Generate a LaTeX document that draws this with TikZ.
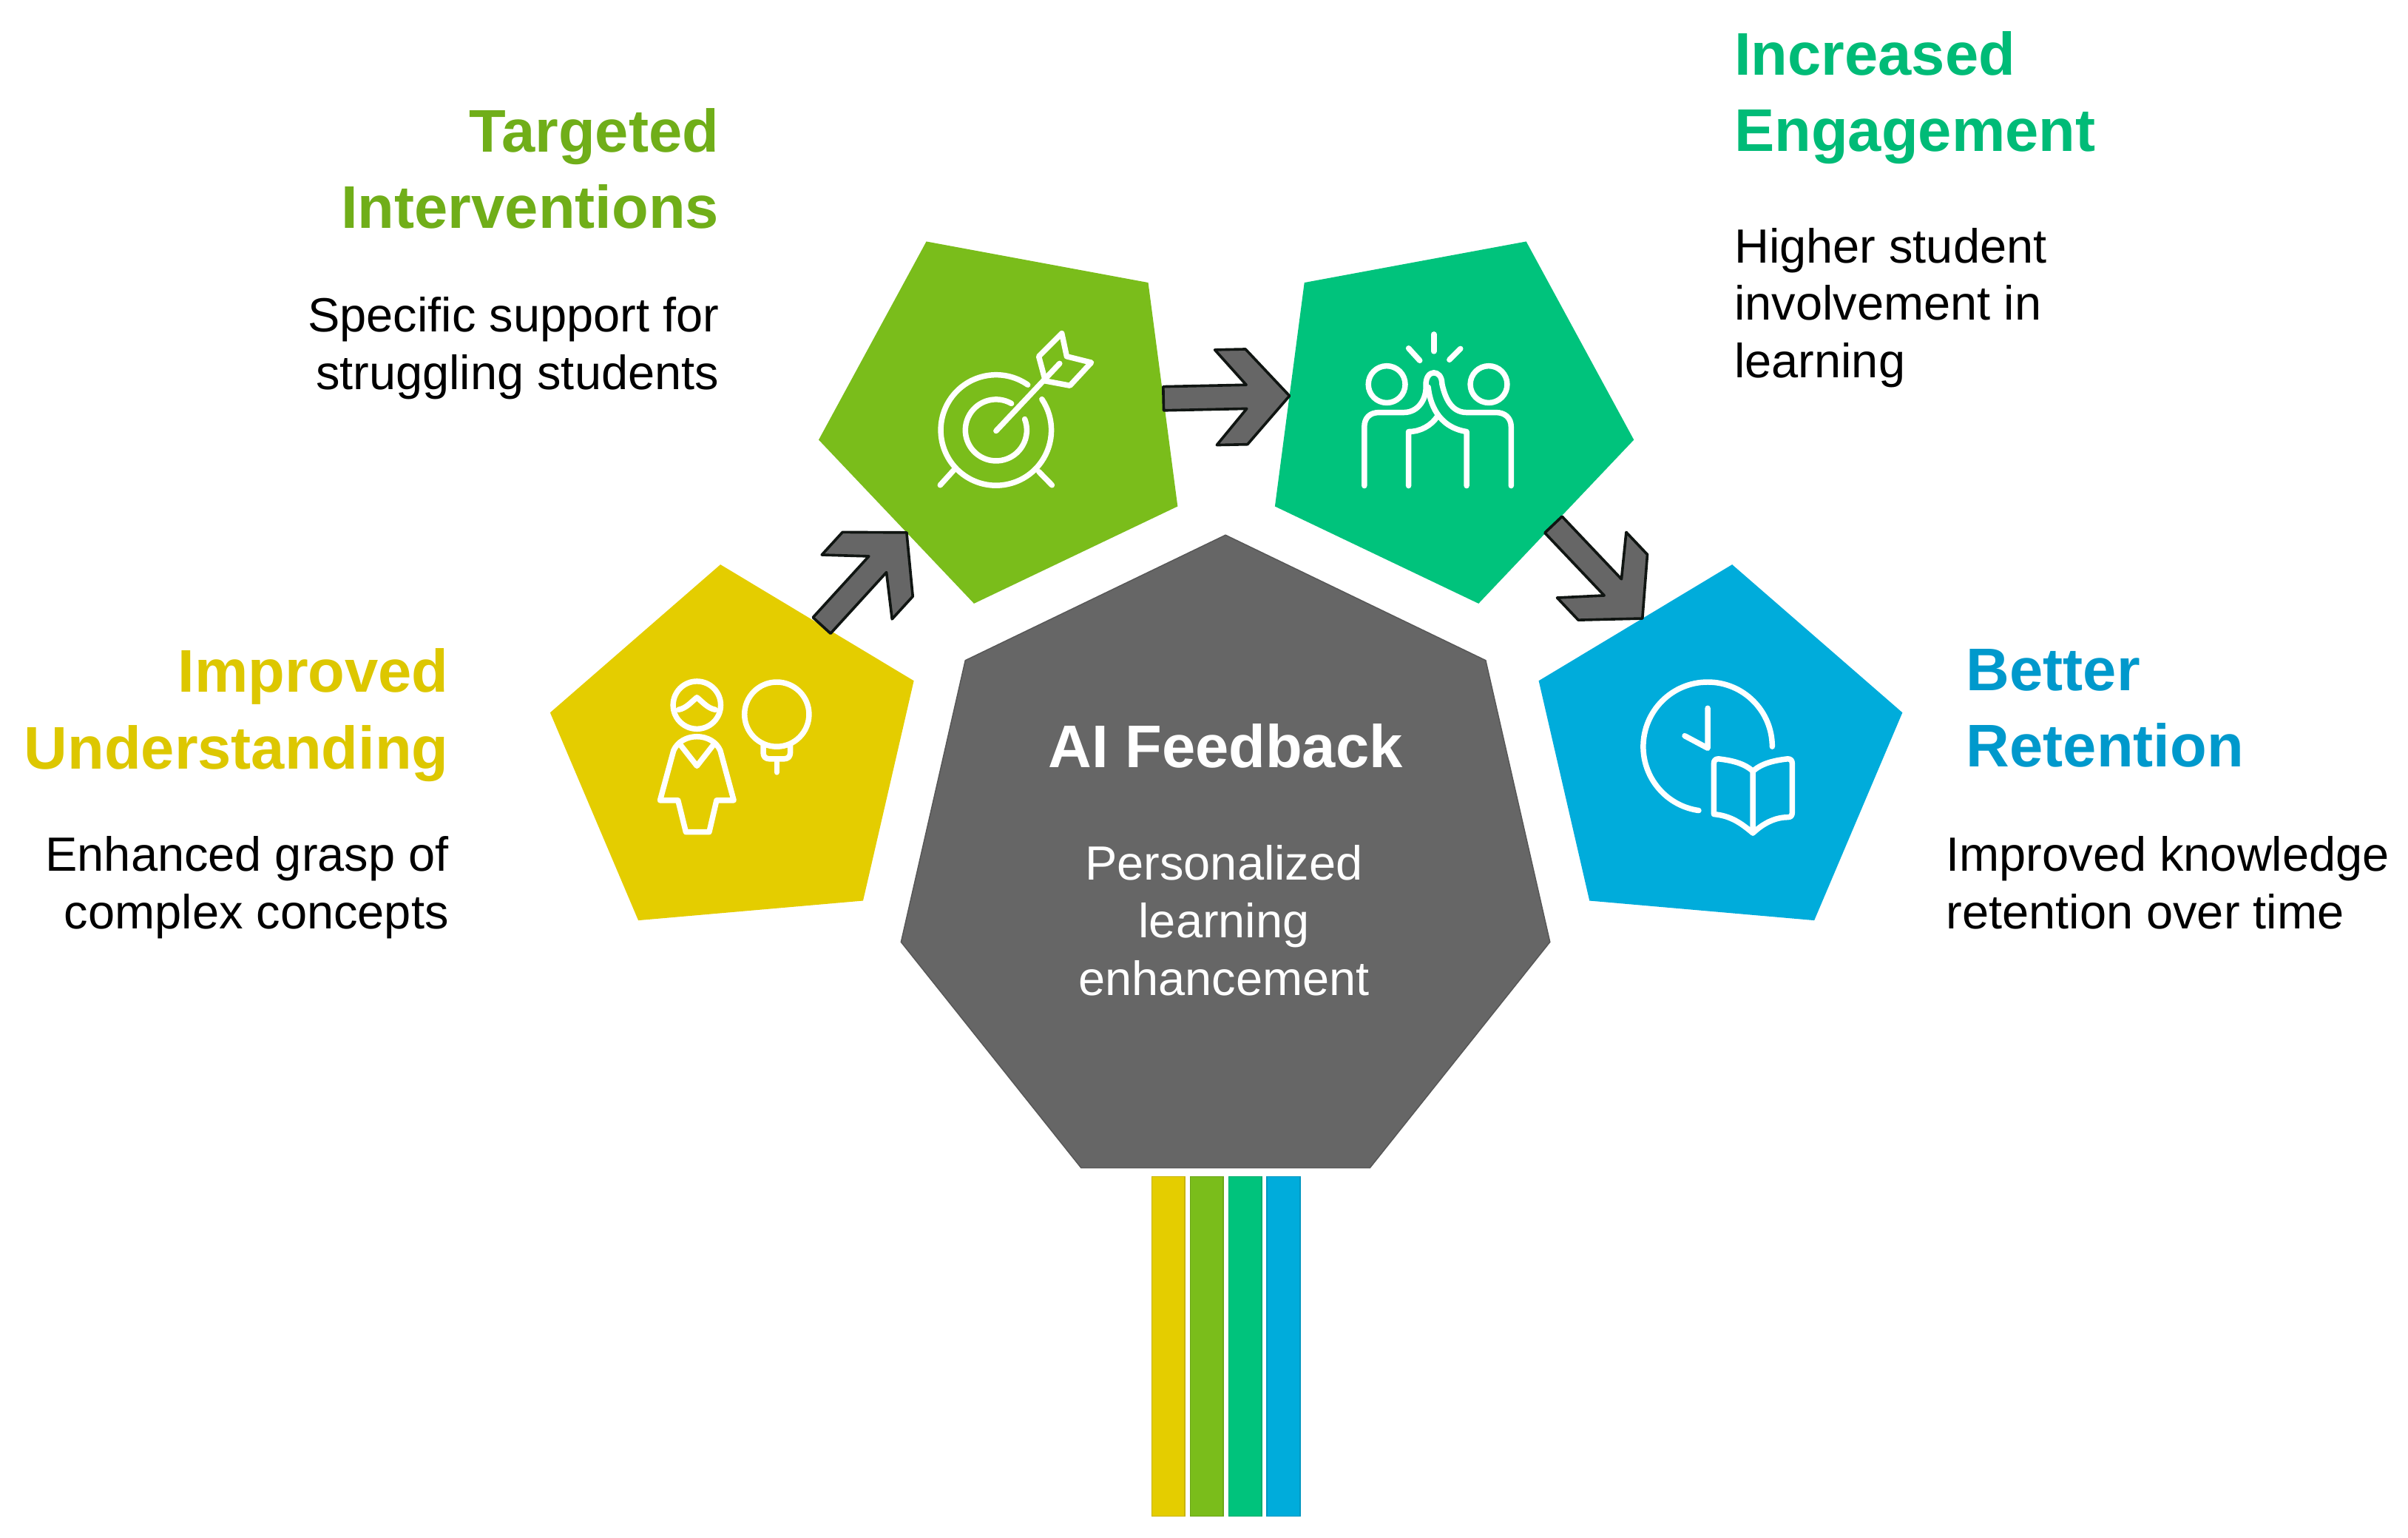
\documentclass[tikz,border=0pt]{standalone}
\usepackage{fontspec}
\setmainfont{Liberation Sans}
\usetikzlibrary{shapes.geometric,calc}
\definecolor{ideayellow}{HTML}{E4CD00}
\definecolor{ideagreen}{HTML}{7ABD1B}
\definecolor{ideateal}{HTML}{00C37C}
\definecolor{ideablue}{HTML}{00ACDB}
\definecolor{headblue}{HTML}{0099CC}
\definecolor{hubgray}{HTML}{666666}
\definecolor{linkedge}{HTML}{101512}
% chevron connector as one closed outline, tail to tip
\newcommand{\linkarrow}[2]{
  \coordinate (neck) at ($(#2)!.56cm!(#1)$);
  \coordinate (barb) at ($(#2)!.96cm!(#1)$);
  \draw[link] (#2) -- ($(neck)!.62cm!90:(#2)$) -- ($(barb)!.62cm!90:(#2)$) -- ($(neck)!.155cm!90:(#2)$)
    -- ($(#1)!.155cm!90:(#2)$) -- ($(#1)!.155cm!-90:(#2)$) -- ($(neck)!.155cm!-90:(#2)$)
    -- ($(barb)!.62cm!-90:(#2)$) -- ($(neck)!.62cm!-90:(#2)$) -- cycle;
}
\begin{document}
\begin{tikzpicture}[x=0.02cm,y=-0.02cm,
  penta/.style={regular polygon, regular polygon sides=5, minimum size=5cm, inner sep=0pt, outer sep=0pt},
  hub/.style={regular polygon, regular polygon sides=7, minimum size=8.67cm, inner sep=0pt, outer sep=0pt, fill=hubgray, draw=hubgray!85!black, line width=0.4pt},
  link/.style={fill=hubgray, draw=linkedge, line width=0.035cm, line join=round},
  head/.style={inner sep=0pt, font=\fontsize{22.3}{28.4}\selectfont\bfseries},
  body/.style={inner sep=0pt, font=\fontsize{17.8}{21.3}\selectfont},
  icon/.style={draw=white, line width=0.072cm, line cap=round, line join=round},
  bar/.style={line width=0.4pt}]
\useasboundingbox (0,0) rectangle (1568,1001);

\node[penta, fill=ideayellow, shape border rotate=5] (improved) at (480,492) {};
\node[penta, fill=ideagreen, shape border rotate=25.5] (targeted) at (657,270) {};
\node[penta, fill=ideateal, shape border rotate=-25.5] (engaged) at (940,270) {};
\node[penta, fill=ideablue, shape border rotate=-5] (retained) at (1117,492) {};
\node[hub] (feedback) at (798,565) {};

\linkarrow{improved.57}{targeted.229}
\linkarrow{targeted.6.8}{engaged.173.2}
\linkarrow{engaged.315}{retained.118}

% texts
\node[head, text=ideayellow!97!black, anchor=north east, align=right] (improvedh) at (292.5,422) {Improved\\Understanding};
\node[body, anchor=north east, align=right] (improvedb) at (292.5,544) {Enhanced grasp of\\complex concepts};
\node[head, text=ideagreen!92!black, anchor=north east, align=right] (targetedh) at (468.5,70) {Targeted\\Interventions};
\node[body, anchor=north east, align=right] (targetedb) at (468.5,193) {Specific support for\\struggling students};
\node[head, text=ideateal!96!black, anchor=north west, align=left] (engagedh) at (1129,20) {Increased\\Engagement};
\node[body, anchor=north west, align=left] (engagedb) at (1129,148) {Higher student\\involvement in\\learning};
\node[head, text=headblue, anchor=north west, align=left] (retainedh) at (1280,422) {Better\\Retention};
\node[body, anchor=north west, align=left] (retainedb) at (1267,544) {Improved knowledge\\retention over time};
\node[head, text=white, anchor=north] (feedbackh) at (798,471) {AI Feedback};
\node[body, text=white, anchor=north, align=center] (feedbackb) at (797,550) {Personalized\\learning\\enhancement};

% bars under the hub
\foreach \x/\c in {750/ideayellow,775/ideagreen,800/ideateal,825/ideablue}{
  \draw[bar, fill=\c, draw=\c!88!black] (\x,766) rectangle (\x+21.5,987);
}

% person and bulb
\draw[icon] (453.8,459) circle[radius=15.5];
\draw[icon] (441.8,462) .. controls (447,461) and (450,457) .. (453.8,454) .. controls (457.6,457) and (460.6,461) .. (465.8,462);
\draw[icon] (446.6,541.6) -- (441.5,521) -- (429.8,521) -- (438.6,488.6) .. controls (441,483) and (447,479.5) .. (453.8,479.5)
  .. controls (460.6,479.5) and (466.6,483) .. (469,488.6) -- (477.8,521) -- (466.6,521) -- (461.8,541.6) -- cycle;
\draw[icon] (443.4,485.3) -- (453.8,498.6) -- (464.2,485.3);
\draw[icon] (505.8,465) circle[radius=21];
\draw[icon] (497,485) -- (497,490) .. controls (497,492.5) and (498.5,494) .. (501,494) -- (510.5,494) .. controls (513,494) and (514.6,492.5) .. (514.6,490) -- (514.6,485);
\draw[icon] (505.8,494) -- (505.8,502.7);

% target and dart
\draw[icon] (648.6,280) ++(-55:36) arc[start angle=-55, end angle=-394, radius=36];
\draw[icon] (648.6,280) ++(-60:20) arc[start angle=-60, end angle=-381, radius=20];
\draw[icon] (648.6,280.5) -- (690,236.6);
\draw[icon] (680.7,248) -- (676.4,232) -- (691.4,217) -- (694.6,232) -- (710.6,236) -- (696.7,251) -- cycle;
\draw[icon] (620.8,306.3) -- (612.2,315.8);
\draw[icon] (676.4,307) -- (685,315.8);

% high five
\draw[icon] (933.7,217.6) -- (933.7,228.7);
\draw[icon] (917.2,226.7) -- (924.5,234.7);
\draw[icon] (951,227) -- (943.8,234.2);
\draw[icon] (903,250.2) circle[radius=12];
\draw[icon] (969.4,250.2) circle[radius=12];
\draw[icon] (888.4,316.2) -- (888.4,278) .. controls (888.4,272) and (892,268.5) .. (898,268.5) -- (914,268.5)
  .. controls (924,268.5) and (929,259) .. (928.5,251) .. controls (928,240) and (939,240) .. (939,250)
  .. controls (941,259) and (945,268.5) .. (955,268.5) -- (974,268.5) .. controls (980,268.5) and (984,272) .. (984,278) -- (984,316.2);
\draw[icon] (917.2,316.2) -- (917.2,281) .. controls (925,281) and (932,277) .. (936,271);
\draw[icon] (930,252) .. controls (931,262) and (936,278) .. (955,281) -- (955,316.2);

% clock and book
\draw[icon] (1112,486) ++(0:42) arc[start angle=0, end angle=-262, radius=42];
\draw[icon] (1112,461) -- (1112,487) -- (1097,479);
\draw[icon] (1141.4,502) .. controls (1136,497) and (1128,495) .. (1119,494) .. controls (1117,494) and (1116,495) .. (1116,497)
  -- (1116,530) .. controls (1127,531) and (1134,536) .. (1141.4,542.3) .. controls (1148,536) and (1156,532) .. (1164,532)
  .. controls (1166,532) and (1167,531) .. (1167,529) -- (1167,497) .. controls (1167,495) and (1166,494) .. (1164,494)
  .. controls (1155,495) and (1147,497) .. (1141.4,502) -- (1141.4,542.3);
\end{tikzpicture}
\end{document}
